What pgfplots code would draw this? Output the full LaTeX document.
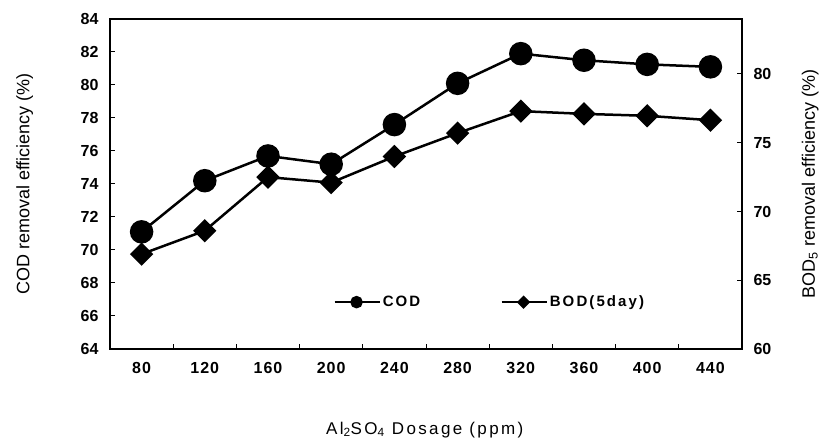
\documentclass[border=0pt]{standalone}
\usepackage{pgfplots}
\pgfplotsset{compat=1.18}
\usepackage{fontspec}
\setmainfont{Liberation Sans}
\newfontfamily\spaced[LetterSpace=14]{Liberation Sans}
\newfontfamily\tickspaced[LetterSpace=6]{Liberation Sans}
\begin{document}
\begin{tikzpicture}
\useasboundingbox (-110pt,-95pt) rectangle (709pt,349pt);
\pgfplotsset{
  every axis/.append style={
    scale only axis, width=632pt, height=330pt,
    at={(0pt,0pt)}, anchor=south west,
    xmin=-0.5, xmax=9.5,
    tick align=inside,
    axis line style={line width=2.5pt},
    major tick length=5pt, minor tick length=5pt,
    every tick/.style={line width=1pt, black},
    /pgf/number format/assume math mode=true,
    tick label style={font=\fontsize{16}{19}\selectfont\bfseries},
    label style={font=\fontsize{18}{21}\selectfont},
    legend image code/.code={\draw[mark repeat=2,mark phase=2,#1] plot coordinates {(0pt,0pt) (22pt,0pt) (45pt,0pt)};},
  }
}
\begin{axis}[
  ymin=64, ymax=84, ytick={64,66,...,84},
  xtick={0,...,9},
  xticklabels={80,120,160,200,240,280,320,360,400,440},
  major x tick style={draw=none},
  minor xtick={0.5,1.5,...,8.5},
  xtick pos=bottom, ytick pos=left,
  xticklabel style={yshift=-10pt, font=\fontsize{16}{19}\selectfont\tickspaced\bfseries},
  yticklabel style={xshift=-8pt},
  xlabel={Al\textsubscript{2}SO\textsubscript{4} Dosage (ppm)},
  xlabel style={at={(axis description cs:0.498,-0.245)}, anchor=center, font=\fontsize{17}{20}\selectfont\spaced},
  ylabel={COD removal efficiency (\%)},
  ylabel style={at={(axis description cs:-0.135,0.5)}, anchor=center},
]
\addplot[black, line width=2.5pt, mark=*, mark size=10.5pt] coordinates {
 (0,71.1) (1,74.2) (2,75.7) (3,75.2) (4,77.6) (5,80.1) (6,81.9) (7,81.5) (8,81.25) (9,81.1)};
\end{axis}
\begin{axis}[
  axis x line=none, axis y line*=right,
  ymin=60, ymax=84, ytick={60,65,...,80},
  yticklabel style={xshift=8pt},
  ylabel={BOD\textsubscript{5} removal efficiency (\%)},
  ylabel style={at={(axis description cs:1.108,0.5)}, anchor=center, rotate=0},
  legend style={draw=none, fill=none, at={(axis description cs:0.353,0.142)}, anchor=west,
    font=\fontsize{15}{18}\selectfont\spaced\bfseries, inner sep=0pt,
    /tikz/every even column/.append style={column sep=78pt}},
  legend columns=2,
]
\addlegendimage{black, line width=2.5pt, mark=*, mark size=5pt}
\addlegendentry{COD}
\addplot[black, line width=2.5pt, mark=square*, mark size=7pt, mark options={rotate=45}, forget plot] coordinates {
 (0,66.9) (1,68.6) (2,72.5) (3,72.1) (4,74.0) (5,75.7) (6,77.3) (7,77.1) (8,76.96) (9,76.64)};
\addlegendimage{black, line width=2.5pt, mark=square*, mark size=3.5pt, mark options={rotate=45}}
\addlegendentry{BOD(5day)}
\end{axis}
\end{tikzpicture}
\end{document}
